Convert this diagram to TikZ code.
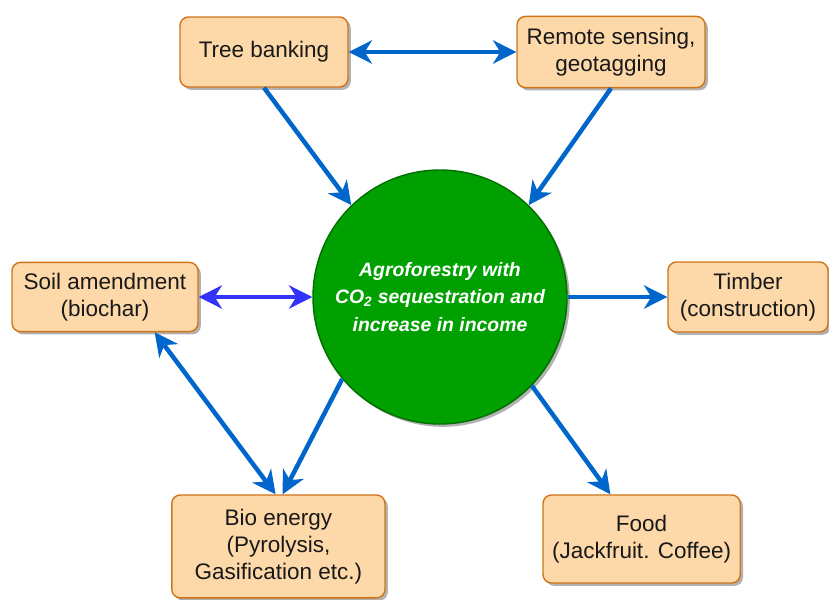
\documentclass[tikz,border=0pt]{standalone}
\usepackage{fontspec}
\setmainfont{Liberation Sans}
\usetikzlibrary{arrows.meta,shadows}
\definecolor{boxfill}{HTML}{FDD8A8}
\definecolor{boxline}{HTML}{D07418}
\definecolor{hubfill}{HTML}{00A000}
\definecolor{hubline}{HTML}{006E00}
\definecolor{linkblue}{HTML}{0066CC}
\definecolor{soilblue}{HTML}{3333FF}
\begin{document}
\begin{tikzpicture}[
    block/.style={rectangle, draw=boxline, line width=1pt, rounded corners=6pt,
                  text centered, align=center, fill=boxfill, text=black!90,
                  font=\fontsize{16}{19.2}\selectfont,
                  drop shadow={shadow xshift=2pt, shadow yshift=-2pt,
                               opacity=0.3, fill=black}},
    hub/.style={circle, draw=hubline, line width=1pt, fill=hubfill,
                minimum size=6.35cm, inner sep=0pt, text=white,
                text centered, align=center,
                font=\fontsize{13.8}{19.5}\selectfont\bfseries\itshape,
                drop shadow={shadow xshift=2pt, shadow yshift=-2pt,
                             opacity=0.3, fill=black}},
    arrow/.style={-{Stealth[length=0.58cm, width=0.58cm, inset=0.18cm]},
                  line width=3.2pt, draw=linkblue},
    twoway/.style={{Stealth[length=0.58cm, width=0.58cm, inset=0.18cm]}-{Stealth[length=0.58cm, width=0.58cm, inset=0.18cm]},
                  line width=3.2pt, draw=linkblue}
]
    \useasboundingbox (0, 0) rectangle (20.725, -14.975);

    % Centrum
    \node[hub] (hub) at (11.0, -7.425)
        {Agroforestry with\\CO\textsubscript{2} sequestration and\\increase in income};

    % Bovenste rij
    \node[block, minimum width=4.2cm, minimum height=1.75cm] (tree) at (6.6, -1.3)
        {Tree banking};
    \node[block, minimum width=4.7cm, minimum height=1.78cm] (remote) at (15.275, -1.3)
        {Remote sensing,\\geotagging};

    % Middelste rij
    \node[block, minimum width=4.65cm, minimum height=1.73cm] (soil) at (2.625, -7.425)
        {Soil amendment\\(biochar)};
    \node[block, minimum width=4.0cm, minimum height=1.75cm] (timber) at (18.7, -7.425)
        {Timber\\(construction)};

    % Onderste rij
    \node[block, minimum width=5.33cm, minimum height=2.57cm] (bio) at (6.96, -13.66)
        {Bio energy\\(Pyrolysis,\\Gasification etc.)};
    \node[block, minimum width=4.93cm, minimum height=2.2cm] (food) at (16.04, -13.475)
        {Food\\(Jackfruit. Coffee)};

    % Pijlen
    \draw[twoway] (tree) -- (remote);
    \draw[arrow] (tree.south) -- (hub.134);
    \draw[arrow] (remote.south) -- (hub.46);
    \draw[twoway, draw=soilblue] (soil.east) -- (hub.west);
    \draw[arrow] (hub.east) -- (timber.west);
    \draw[arrow] (hub.-140) -- ([xshift=3pt]bio.north);
    \draw[twoway] ([xshift=-1.1cm]soil.south east) -- ([xshift=-2pt]bio.north);
    \draw[arrow] (hub.-44) -- ([xshift=-0.78cm]food.north);

\end{tikzpicture}
\end{document}
